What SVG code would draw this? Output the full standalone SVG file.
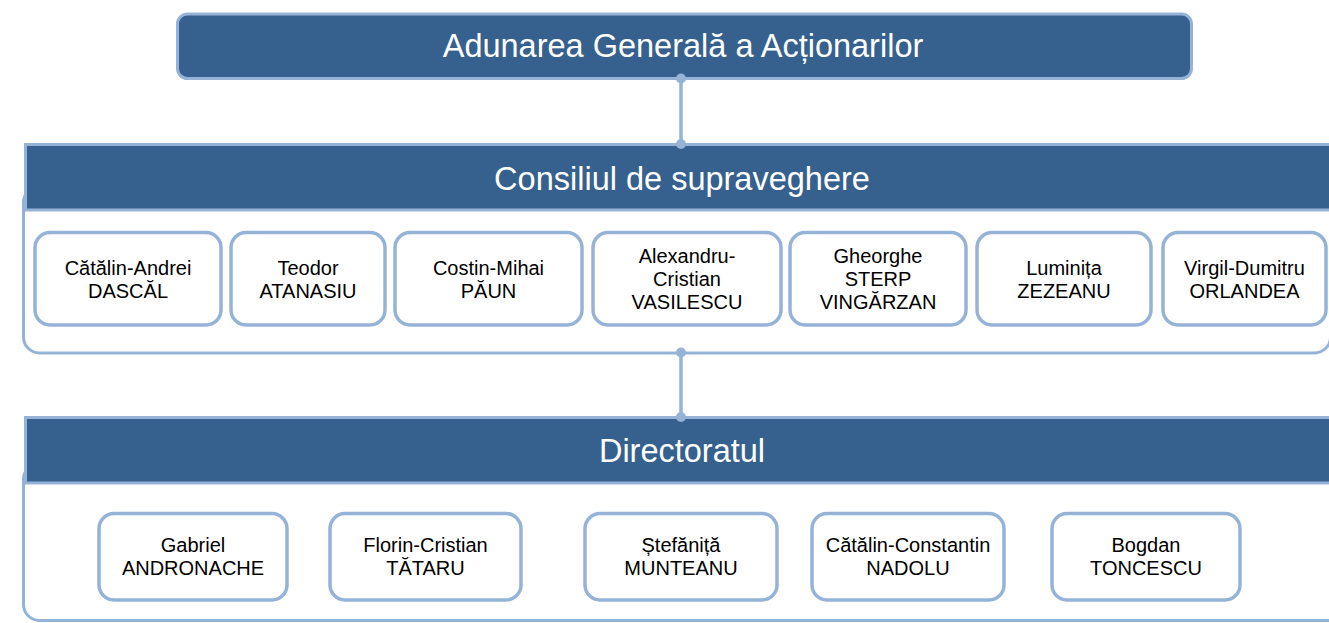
<svg xmlns="http://www.w3.org/2000/svg" width="1329" height="623" viewBox="0 0 1329 623">
<style>
.hdr{fill:#36618F;stroke:#95B3D7;stroke-width:3}
.cont{fill:#FFFFFF;stroke:#95B3D7;stroke-width:3}
.box{fill:#FFFFFF;stroke:#95B3D7;stroke-width:3.5}
.ht{font-family:"Liberation Sans",Arial,sans-serif;font-size:32.5px;fill:#FFFFFF;text-anchor:middle}
.nt{font-family:"Liberation Sans",Arial,sans-serif;font-size:20px;fill:#000000;text-anchor:middle}
.ln{stroke:#95B3D7;stroke-width:3.5;fill:none}
.dot{fill:#95B3D7}
</style>
<rect width="1329" height="623" fill="#FFFFFF"/>
<g id="aga">
<rect class="hdr" x="177.5" y="14" width="1014" height="64.5" rx="10" stroke-width="3.5"/>
<text class="ht" x="683" y="57">Adunarea Generală a Acționarilor</text>
</g>
<g id="consiliu">
<rect class="cont" x="23.5" y="186" width="1307" height="167" rx="16"/>
<rect class="hdr" x="25.5" y="144.5" width="1320" height="65.5"/>
<text class="ht" x="682" y="190">Consiliul de supraveghere</text>
</g>
<g id="c1"><rect class="box" x="35" y="232.5" width="186" height="92.5" rx="15"/><text class="nt" x="128" y="275">Cătălin-Andrei</text><text class="nt" x="128" y="298">DASCĂL</text></g>
<g id="c2"><rect class="box" x="231" y="232.5" width="154" height="92.5" rx="15"/><text class="nt" x="308" y="275">Teodor</text><text class="nt" x="308" y="298">ATANASIU</text></g>
<g id="c3"><rect class="box" x="395" y="232.5" width="187" height="92.5" rx="15"/><text class="nt" x="488.5" y="275">Costin-Mihai</text><text class="nt" x="488.5" y="298">PĂUN</text></g>
<g id="c4"><rect class="box" x="593" y="232.5" width="188" height="92.5" rx="15"/><text class="nt" x="687" y="263">Alexandru-</text><text class="nt" x="687" y="286">Cristian</text><text class="nt" x="687" y="309">VASILESCU</text></g>
<g id="c5"><rect class="box" x="790" y="232.5" width="176" height="92.5" rx="15"/><text class="nt" x="878" y="263">Gheorghe</text><text class="nt" x="878" y="286">STERP</text><text class="nt" x="878" y="309">VINGĂRZAN</text></g>
<g id="c6"><rect class="box" x="977" y="232.5" width="174" height="92.5" rx="15"/><text class="nt" x="1064" y="275">Luminița</text><text class="nt" x="1064" y="298">ZEZEANU</text></g>
<g id="c7"><rect class="box" x="1163" y="232.5" width="163" height="92.5" rx="15"/><text class="nt" x="1244.5" y="275">Virgil-Dumitru</text><text class="nt" x="1244.5" y="298">ORLANDEA</text></g>
<g id="directorat">
<rect class="cont" x="23.5" y="463" width="1320" height="157.5" rx="16"/>
<rect class="hdr" x="25.5" y="417.5" width="1320" height="65.5"/>
<text class="ht" x="682" y="462">Directoratul</text>
</g>
<g id="d1"><rect class="box" x="99" y="513.5" width="188" height="86.5" rx="15"/><text class="nt" x="193" y="552">Gabriel</text><text class="nt" x="193" y="575">ANDRONACHE</text></g>
<g id="d2"><rect class="box" x="330" y="513.5" width="191" height="86.5" rx="15"/><text class="nt" x="425.5" y="552">Florin-Cristian</text><text class="nt" x="425.5" y="575">TĂTARU</text></g>
<g id="d3"><rect class="box" x="585" y="513.5" width="192" height="86.5" rx="15"/><text class="nt" x="681" y="552">Ștefăniță</text><text class="nt" x="681" y="575">MUNTEANU</text></g>
<g id="d4"><rect class="box" x="812" y="513.5" width="192" height="86.5" rx="15"/><text class="nt" x="908" y="552">Cătălin-Constantin</text><text class="nt" x="908" y="575">NADOLU</text></g>
<g id="d5"><rect class="box" x="1052" y="513.5" width="188" height="86.5" rx="15"/><text class="nt" x="1146" y="552">Bogdan</text><text class="nt" x="1146" y="575">TONCESCU</text></g>
<g id="connectors">
<line class="ln" x1="681" y1="78" x2="681" y2="144"/>
<circle class="dot" cx="681" cy="78.5" r="5"/>
<circle class="dot" cx="681" cy="144" r="5"/>
<line class="ln" x1="681" y1="352" x2="681" y2="417"/>
<circle class="dot" cx="681" cy="352.5" r="5"/>
<circle class="dot" cx="681" cy="417" r="5"/>
</g>
</svg>
